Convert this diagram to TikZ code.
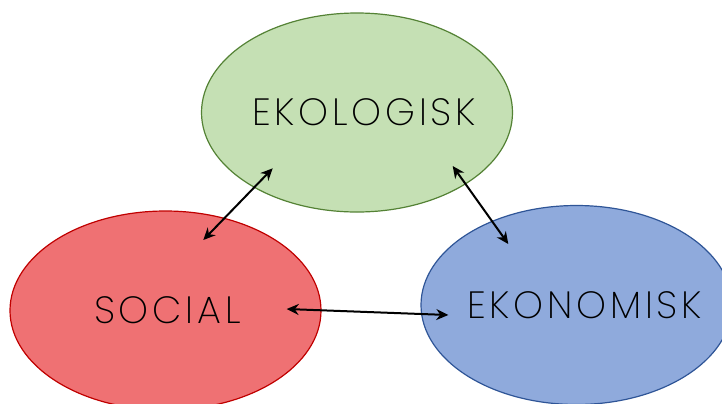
\documentclass[tikz,border=0pt]{standalone}
\usepackage{fontspec}
\setmainfont{Poppins ExtraLight}[LetterSpace=10]
\usepackage{tikz}
\usetikzlibrary{shapes.geometric,arrows.meta}
\definecolor{ekofill}{HTML}{C5E0B4}
\definecolor{ekoline}{HTML}{548235}
\definecolor{socfill}{HTML}{EF7173}
\definecolor{socline}{HTML}{C00000}
\definecolor{ekonfill}{HTML}{8FAADC}
\definecolor{ekonline}{HTML}{2F5597}
\newcommand{\blobtext}[2]{\makebox[0pt]{\hspace{#1}#2}}
\tikzset{
  blob/.style={ellipse, minimum width=155.5pt, minimum height=99.5pt, inner sep=0pt,
    line width=0.6pt, font=\fontsize{19}{22}\selectfont, text=black},
  link/.style={{Stealth[length=6pt,width=5.5pt]}-{Stealth[length=6pt,width=5.5pt]},
    draw=black, line width=1pt}
}

\begin{document}
\begin{tikzpicture}[x=0.5pt,y=-0.5pt]
  \useasboundingbox (0,0) rectangle (722,403);
  \clip (0,0) rectangle (722,403);

  \node[blob, draw=ekoline, fill=ekofill] (eko) at (357,112.5) {\blobtext{7pt}{EKOLOGISK}};
  \node[blob, draw=socline, fill=socfill] (soc) at (165.5,310.5) {\blobtext{2pt}{SOCIAL}};
  \node[blob, draw=ekonline, fill=ekonfill] (ekon) at (576.5,305) {\blobtext{8pt}{EKONOMISK}};

  % arrow ends
  \coordinate (ekoL) at (272.7,168.3);
  \coordinate (socT) at (203.3,240);
  \coordinate (ekoR) at (452.7,166);
  \coordinate (ekonT) at (508.3,244);
  \coordinate (socR) at (286.7,309);
  \coordinate (ekonL) at (448.3,315);

  \draw[link] (ekoL) -- (socT);
  \draw[link] (ekoR) -- (ekonT);
  \draw[link] (socR) -- (ekonL);
\end{tikzpicture}
\end{document}
